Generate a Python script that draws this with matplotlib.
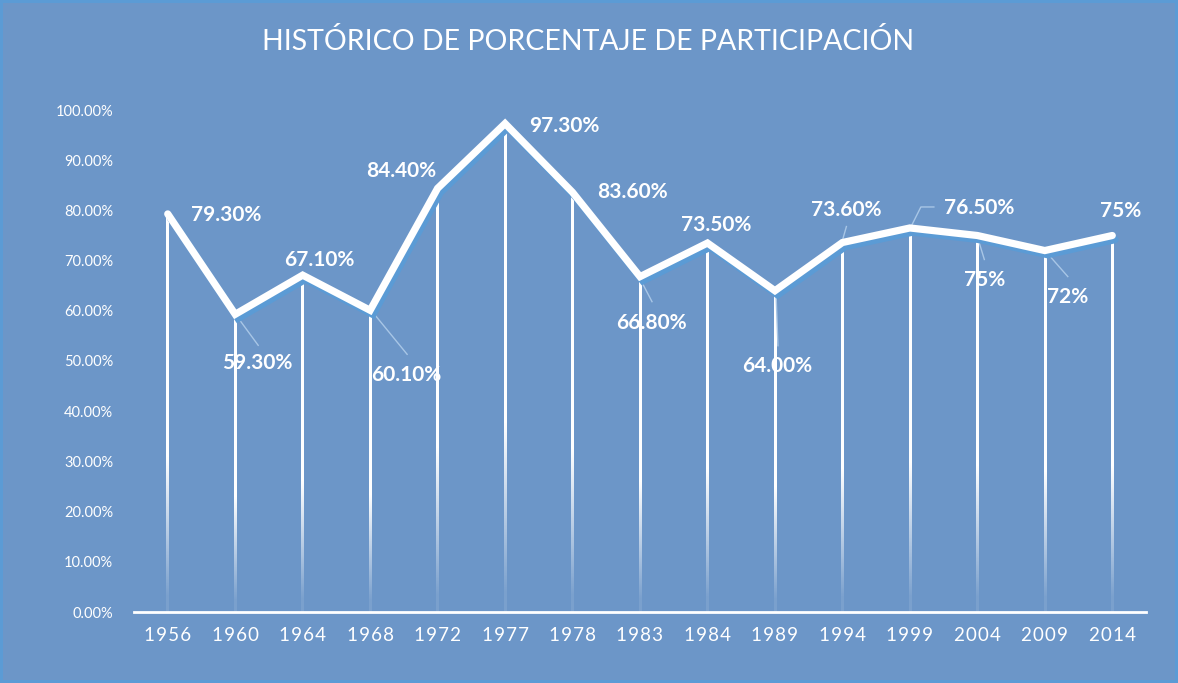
import numpy as np
import matplotlib.pyplot as plt
import matplotlib.patheffects as pe

# participation history
years = ['1956', '1960', '1964', '1968', '1972', '1977', '1978', '1983',
         '1984', '1989', '1994', '1999', '2004', '2009', '2014']
values = [79.3, 59.3, 67.1, 60.1, 84.4, 97.3, 83.6, 66.8,
          73.5, 64.0, 73.6, 76.5, 75, 72, 75]
labels = ['79.30%', '59.30%', '67.10%', '60.10%', '84.40%', '97.30%', '83.60%', '66.80%',
          '73.50%', '64.00%', '73.60%', '76.50%', '75%', '72%', '75%']

bg = '#6C96C8'
leader = '#A8C6E6'

fig = plt.figure(figsize=(11.78, 6.83), dpi=100, facecolor=bg)
fig.patch.set_edgecolor('#5B9BD5')
fig.patch.set_linewidth(3)
ax = fig.add_axes([134 / 1178, 1 - 612 / 683, 1012 / 1178, 502 / 683])
ax.set_facecolor(bg)

x = np.arange(len(years))
ax.set_xlim(-0.5, len(years) - 0.5)
ax.set_ylim(0, 100)

# drop lines fading toward the bottom (white strip with alpha gradient)
grad = np.clip(np.linspace(0, 1, 200) * 2.6, 0.1, 1.0)
strip = np.ones((200, 1, 4))
strip[:, 0, 3] = grad
hw = 1.25 / 67.5
for xi, v in zip(x, values):
    ax.imshow(strip, extent=(xi - hw, xi + hw, 0, v), origin='lower', aspect='auto',
              interpolation='bilinear', zorder=2)

ax.plot(x, values, color='white', lw=5.2, solid_capstyle='round', solid_joinstyle='miter',
        zorder=4,
        path_effects=[pe.SimpleLineShadow(offset=(2, -3), shadow_color='#5B9BD5', alpha=1),
                      pe.Normal()])

# label offsets in pixels (dx, dy with y pointing down as in the picture)
offs = [(58, 1), (22, 49), (17, -15), (36, 65), (-36, -17), (59, 2), (60, 0), (11, 46),
        (9, -18), (2, 75), (4, -33), (69, -20), (7, 45), (23, 46), (8, -24)]
leaders = {1: [(1, 1), (23, 31)], 3: [(1, 0), (37, 44)], 7: [(0, 2), (12, 25)],
           9: [(1, 0), (3, 55)], 10: [(0, -2), (4, -16)],
           11: [(1, -1), (11, -21), (24, -21)],
           12: [(0, 1), (7, 24)], 13: [(1, 1), (23, 26)]}

fig.canvas.draw()
inv = ax.transData.inverted()
for i, (v, t) in enumerate(zip(values, labels)):
    px, py = ax.transData.transform((i, v))
    if i in leaders:
        pts = [inv.transform((px + dx, py - dy)) for dx, dy in leaders[i]]
        ax.plot([p[0] for p in pts], [p[1] for p in pts], color=leader, lw=1, zorder=3)
    dx, dy = offs[i]
    ax.annotate(t, (i, v), xytext=(dx, -dy), textcoords='offset pixels', ha='center',
                va='center', color='white', fontsize=15, fontweight='bold',
                family='Lato', zorder=5)

ax.set_yticks(np.arange(0, 101, 10))
ax.set_yticklabels(['%.2f%%' % t for t in np.arange(0, 101, 10)], family='Lato',
                   fontsize=10.5, color='white')
ax.set_xticks(x)
ax.set_xticklabels(['\u200a'.join(y) for y in years], family=['Lato', 'DejaVu Sans'],
                   fontsize=13.5, color='white')
ax.tick_params(axis='y', length=0, pad=15)
ax.tick_params(axis='x', length=0, pad=11)
for s in ['left', 'right', 'top']:
    ax.spines[s].set_visible(False)
ax.spines['bottom'].set_color('white')
ax.spines['bottom'].set_linewidth(2)
ax.spines['bottom'].set_zorder(6)

fig.text(588 / 1178, 1 - 42 / 683, 'HISTÓRICO DE PORCENTAJE DE PARTICIPACIÓN',
         ha='center', va='center', color='white', fontsize=20.5, family='Lato')

plt.savefig('out.png', dpi=100, facecolor=bg, edgecolor='#5B9BD5')
